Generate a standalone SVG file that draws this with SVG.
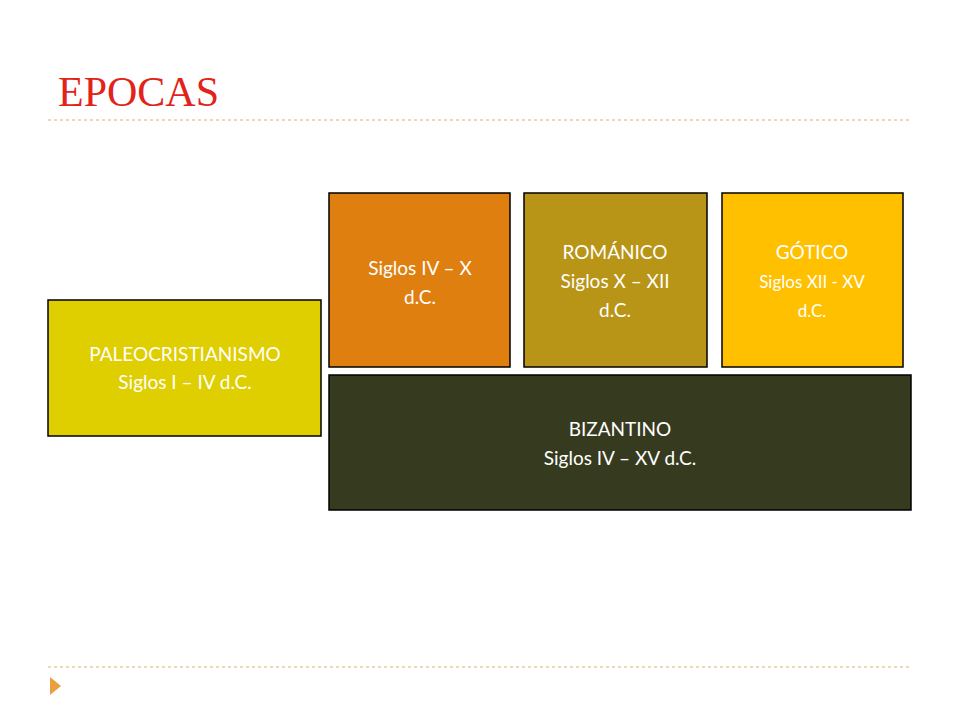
<svg xmlns="http://www.w3.org/2000/svg" width="960" height="720" viewBox="0 0 960 720">
<style>
.box{stroke:#000;stroke-width:1.5}
.t{font-family:Lato,"Open Sans",sans-serif;fill:#fff;text-anchor:middle;font-size:19px}
.s{font-size:17px}
.dash{stroke:#D9B46A;stroke-width:1;stroke-dasharray:3,3}
</style>
<rect width="960" height="720" fill="#fff"/>
<text x="58" y="106" font-family="Liberation Serif,serif" font-size="42" fill="#E2231A">EPOCAS</text>
<line class="dash" x1="48" y1="120" x2="912" y2="120"/>
<line class="dash" x1="48" y1="667" x2="912" y2="667"/>
<polygon points="50,677 61,686 50,695" fill="#E8A040"/>
<g id="paleo"><rect class="box" x="48" y="300" width="273" height="136" fill="#DFCE00"/>
<text class="t" x="185" y="361">PALEOCRISTIANISMO</text><text class="t" x="185" y="389">Siglos I – IV d.C.</text></g>
<g id="ivx"><rect class="box" x="329" y="193" width="181" height="174" fill="#DF7F10"/>
<text class="t" x="420" y="275">Siglos IV – X</text><text class="t" x="420" y="304">d.C.</text></g>
<g id="romanico"><rect class="box" x="524" y="193" width="183" height="174" fill="#B89516"/>
<text class="t" x="615" y="259">ROMÁNICO</text><text class="t" x="615" y="288">Siglos X – XII</text><text class="t" x="615" y="317">d.C.</text></g>
<g id="gotico"><rect class="box" x="722" y="193" width="181" height="174" fill="#FFC000"/>
<text class="t" x="812" y="259">GÓTICO</text><text class="t s" x="812" y="288">Siglos XII - XV</text><text class="t s" x="812" y="317">d.C.</text></g>
<g id="bizantino"><rect class="box" x="329" y="375" width="582" height="135" fill="#363B20"/>
<text class="t" x="620" y="436">BIZANTINO</text><text class="t" x="620" y="465">Siglos IV – XV d.C.</text></g>
<g id="connectors"/>
</svg>
